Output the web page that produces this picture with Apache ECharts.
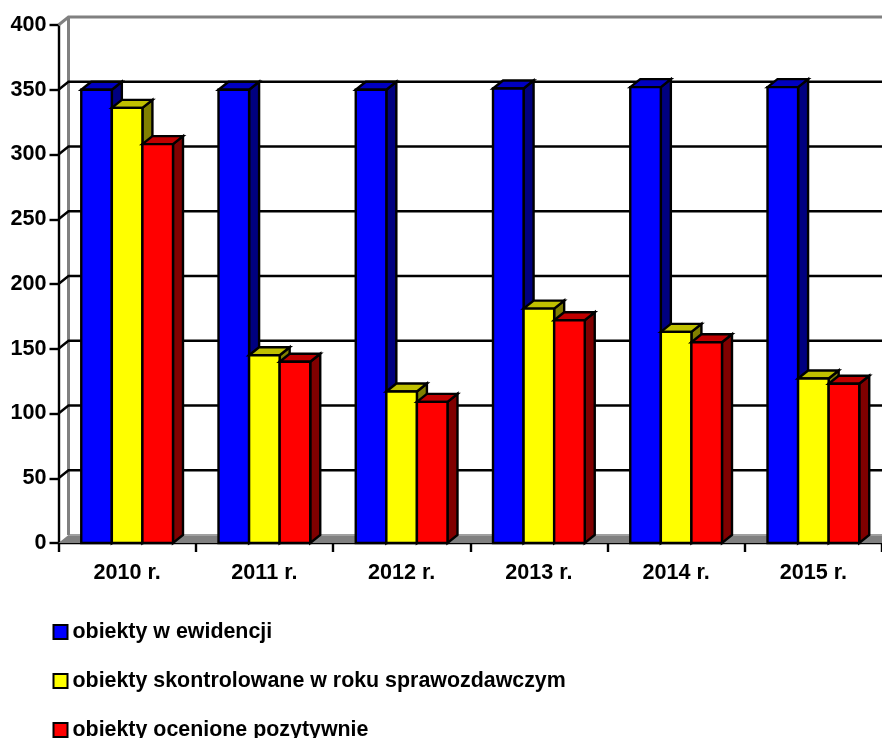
<!DOCTYPE html>
<html><head><meta charset="utf-8">
<style>html,body{margin:0;padding:0;background:#fff}#c{width:882px;height:738px}</style>
<script src="https://cdn.jsdelivr.net/npm/echarts@6/dist/echarts.min.js"></script>
</head><body><div id="c"></div>
<script>
const categories = ['2010 r.','2011 r.','2012 r.','2013 r.','2014 r.','2015 r.'];
const yTicks = [0,50,100,150,200,250,300,350,400];
const evidence = [350,350,350,351,352,352];
const inspected = [336,145,117,181,163,127];
const positive = [308,140,109,172,155,123];
const names = ['obiekty w ewidencji','obiekty skontrolowane w roku sprawozdawczym','obiekty ocenione pozytywnie'];
const DX = 10, DY = -8;

function barSeries(name, data, idx, front, top, side) {
  return {
    type: 'custom', name, data: data.map((v,i)=>[i,v]), coordinateSystem: 'cartesian2d',
    clip: false, z: 3,
    itemStyle: {color: front, borderColor:'#000', borderWidth:2.5},
    encode: {x:0, y:1},
    renderItem(params, api) {
      const t = api.coord([api.value(0), api.value(1)]);
      const b = api.coord([api.value(0), 0]);
      const w = api.size([1,0])[0] * 0.2228;
      const x0 = t[0] + (idx - 1.5) * w, x1 = x0 + w, yt = t[1], yb = b[1];
      const ln = {stroke:'#000', lineWidth:2.4, lineJoin:'miter'};
      return {type:'group', children:[
        {type:'polygon', shape:{points:[[x1,yt],[x1+DX,yt+DY],[x1+DX,yb+DY],[x1,yb]]}, style:{fill:side,...ln}},
        {type:'polygon', shape:{points:[[x0,yt],[x0+DX,yt+DY],[x1+DX,yt+DY],[x1,yt]]}, style:{fill:top,...ln}},
        {type:'rect', shape:{x:x0,y:yt,width:w,height:yb-yt}, style:{fill:front,...ln}}
      ]};
    }
  };
}

const option = {
  animation:false,
  backgroundColor:'#fff',
  textStyle:{fontFamily:'Liberation Sans'},
  grid:{left:58.5,top:25,width:823.5,height:518,containLabel:false},
  legend:{
    orient:'vertical',left:52.5,top:618,height:300,itemWidth:14,itemHeight:14,itemGap:21,icon:'rect',
    data:names, selectedMode:false, padding:0,
    textStyle:{fontFamily:'Liberation Sans',fontWeight:'bold',fontSize:21.4,lineHeight:24,color:'#000',padding:[4,0,0,0]}
  },
  xAxis:{type:'category',data:categories,boundaryGap:true,
    axisLine:{lineStyle:{color:'#000',width:2.4}},
    axisTick:{show:true,length:9,lineStyle:{color:'#000',width:2.4}},
    axisLabel:{color:'#000',fontWeight:'bold',fontSize:21.6,margin:19,interval:0,fontFamily:'Liberation Sans'},
    splitLine:{show:false}},
  yAxis:{type:'value',min:0,max:400,interval:50,
    axisLine:{show:true,lineStyle:{color:'#000',width:2.4}},
    axisTick:{show:true,length:9,lineStyle:{color:'#000',width:2.4}},
    axisLabel:{color:'#000',fontWeight:'bold',fontSize:21.6,margin:12,padding:[2,0,0,0],fontFamily:'Liberation Sans'},
    splitLine:{show:false}},
  series:[
    {type:'custom',name:'walls',data:yTicks.map(v=>[0,v]),clip:false,z:1,silent:true,encode:{x:0,y:1},
      renderItem(params,api){
        const v = api.value(1);
        const y = api.coord([0,v])[1];
        const cs = params.coordSys;
        const left = cs.x, right = cs.x + cs.width;
        const kids = [];
        const edge = v===0 || v===400;
        if (v===0) {
          const top = api.coord([0,400])[1];
          kids.push({type:'polygon',shape:{points:[[left,y],[left+DX,y+DY],[right,y+DY],[right,y]]},style:{fill:'#808080',stroke:null}});
          kids.push({type:'line',shape:{x1:left+DX,y1:y+DY,x2:right,y2:y+DY},style:{stroke:'#a0a0a0',lineWidth:2}});
          kids.push({type:'line',shape:{x1:left+DX,y1:top+DY,x2:left+DX,y2:y+DY},style:{stroke:'#808080',lineWidth:3}});
        } else {
          kids.push({type:'polyline',shape:{points:[[left,y],[left+DX,y+DY],[right,y+DY]]},
            style:{fill:null,stroke:edge?'#808080':'#000',lineWidth:edge?3:2.4}});
        }
        return {type:'group',children:kids};
      }},
    barSeries(names[0],evidence,0,'#0000ff','#0000c0','#000080'),
    barSeries(names[1],inspected,1,'#ffff00','#c0c000','#808000'),
    barSeries(names[2],positive,2,'#ff0000','#c00000','#800000')
  ]
};
echarts.init(document.getElementById('c'),null,{renderer:'canvas'}).setOption(option);
</script></body></html>
